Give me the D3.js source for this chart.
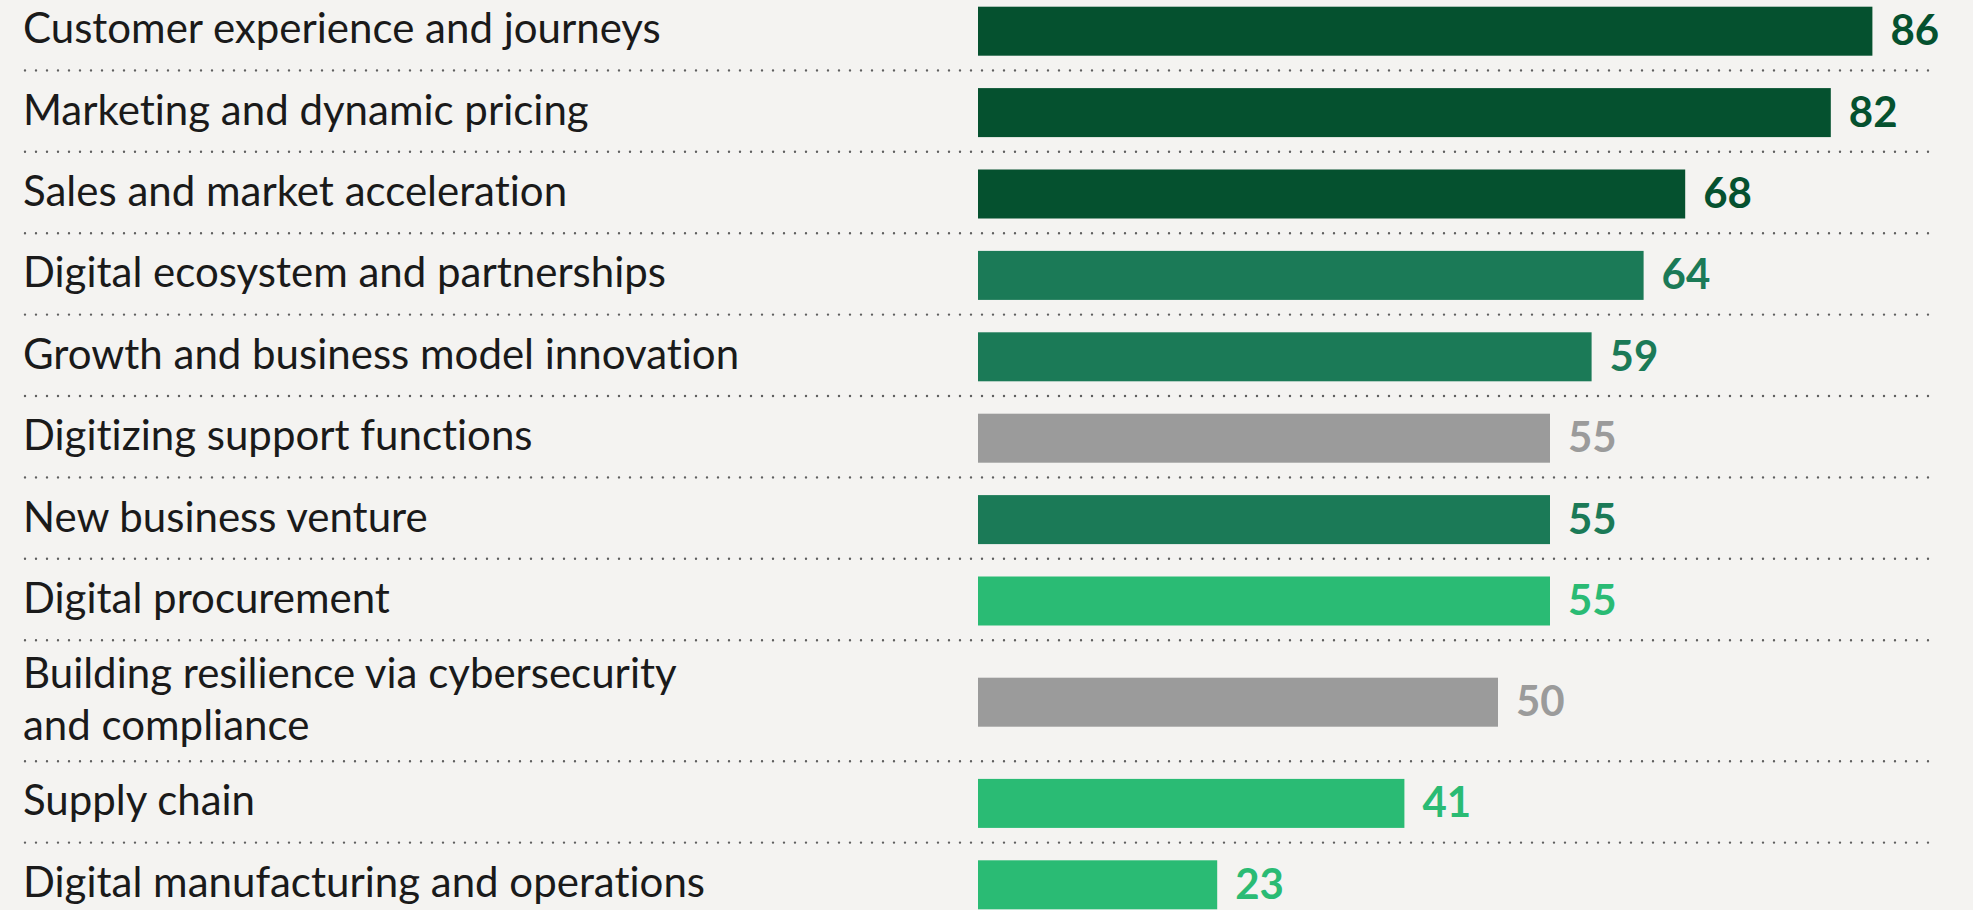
<!DOCTYPE html>
<html>
<head>
<meta charset="utf-8">
<script src="https://cdn.jsdelivr.net/npm/d3@7"></script>
<style>
    html, body { margin: 0; padding: 0; background: #f4f3f1; overflow: hidden; }
    svg { display: block; }
    text { font-variant-ligatures: none; }
    .label { font-family: Lato, "Noto Sans", sans-serif; font-size: 42px; fill: #1a1a1a; }
    .value { font-family: Lato, "Noto Sans", sans-serif; font-size: 42px; font-weight: 700; }
</style>
</head>
<body>
<div id="graph"><svg></svg></div>
<script>

var width = 1973,
    height = 910;

// Chart data.
var categories = [
    ["Customer experience and journeys"],
    ["Marketing and dynamic pricing"],
    ["Sales and market acceleration"],
    ["Digital ecosystem and partnerships"],
    ["Growth and business model innovation"],
    ["Digitizing support functions"],
    ["New business venture"],
    ["Digital procurement"],
    ["Building resilience via cybersecurity", "and compliance"],
    ["Supply chain"],
    ["Digital manufacturing and operations"]
];
var values = [86, 82, 68, 64, 59, 55, 55, 55, 50, 41, 23];
var groups = ["dark", "dark", "dark", "mid", "mid", "grey", "mid", "light", "grey", "light", "light"];

var colors = {
    dark: "#05512f",
    mid: "#1b7a57",
    light: "#2abb74",
    grey: "#9b9b9b"
};

var rowHeight = 81.4,
    extraLine = 39.6,
    barHeight = 49,
    barShift = 1.5,
    startY = -11;

var data = categories.map(function(c, i) {
    return { lines: c, value: values[i], group: groups[i] };
});

// Rows grow with the number of label lines.
var heights = data.map((d) => rowHeight + (d.lines.length - 1) * extraLine);
var offsets = [0].concat(Array.from(d3.cumsum(heights)));
data.forEach(function(d, i) {
    d.y0 = startY + offsets[i];
    d.h = heights[i];
    d.cy = d.y0 + d.h / 2;
});

var x = d3.scaleLinear()
    .domain([0, 100])
    .range([978, 2018]);

var svg = d3.select("#graph svg")
    .attr("width", width)
    .attr("height", height);

svg.append("g")
    .attr("class", "rules")
    .selectAll("line")
    .data(data.slice(0, -1))
    .enter().append("line")
        .attr("x1", 25)
        .attr("x2", 1936)
        .attr("y1", (d) => d.y0 + d.h)
        .attr("y2", (d) => d.y0 + d.h)
        .attr("stroke", "#5f5f5f")
        .attr("stroke-width", 2.4)
        .attr("stroke-linecap", "round")
        .attr("stroke-dasharray", "0 11");

var row = svg.append("g")
    .attr("class", "rows")
    .selectAll("g")
    .data(data)
    .enter().append("g");

row.append("rect")
    .attr("x", x(0))
    .attr("y", (d) => d.cy - barHeight / 2 + barShift)
    .attr("width", (d) => x(d.value) - x(0))
    .attr("height", barHeight)
    .attr("fill", (d) => colors[d.group]);

row.append("text")
    .attr("class", "value")
    .attr("x", (d) => x(d.value) + 18)
    .attr("y", (d) => d.cy + 15.5)
    .attr("fill", (d) => colors[d.group])
    .text((d) => d.value);

row.append("text")
    .attr("class", "label")
    .attr("x", 23)
    .attr("y", (d) => d.cy + 13.5 - (d.lines.length - 1) * 26)
    .selectAll("tspan")
    .data((d) => d.lines)
    .enter().append("tspan")
        .attr("x", 23)
        .attr("dy", (t, i) => i ? 52 : 0)
        .text((t) => t);

</script>
</body>
</html>
